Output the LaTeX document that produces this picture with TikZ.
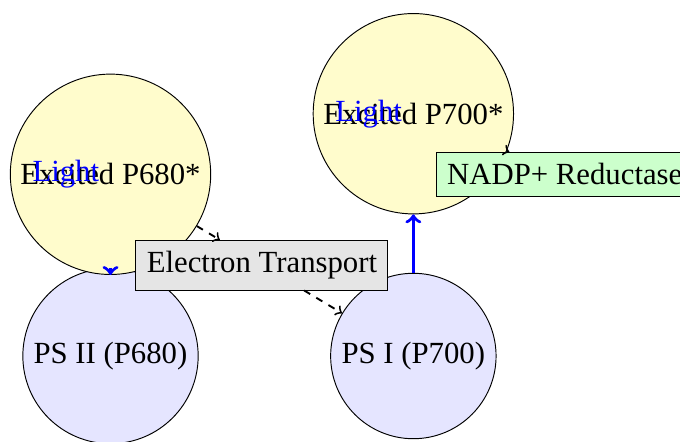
\documentclass[tikz,border=0pt]{standalone}
\usepackage{fontspec}
\setmainfont{Liberation Serif}
\usepackage{tikz}

\begin{document}
\begin{tikzpicture}[font=\fontsize{13pt}{15.5pt}\selectfont,
  every node/.style={inner sep=4.6pt},
  photosystem/.style={circle, draw, fill=blue!10, inner sep=3.4pt},
  excited/.style={circle, draw, fill=yellow!20, inner sep=3.6pt},
  carrier/.style={rectangle, draw, fill=gray!20},
  enzyme/.style={rectangle, draw, fill=green!20},
  lightarrow/.style={->, blue, line width=1.4pt},
  lightlabel/.style={blue, anchor=east},
  flow/.style={->, thick, dashed}]
\useasboundingbox (-1.642,-1.263) rectangle (8.462,5.290);

\node[photosystem] (ps2) at (0,0) {PS II (P680)};
\node[photosystem] (ps1) at (4.5,0) {PS I (P700)};
\node[excited] (exc1) at (0,2.7) {Excited P680*};
\node[excited] (exc2) at (4.5,3.6) {Excited P700*};
\node[carrier] (et) at (2.25,1.35) {Electron Transport};
\node[enzyme] (nadp) at (6.75,2.7) {NADP+ Reductase};

\draw[lightarrow] (ps2) -- (exc1);
\node[lightlabel] (light1) at (exc1.center) {Light};
\draw[lightarrow] (ps1) -- (exc2);
\node[lightlabel] (light2) at (exc2.center) {Light};

\draw[flow] (exc1) -- (et);
\draw[flow] (et) -- (ps1);
\draw[->, thick] (exc2) -- (nadp);
%%\draw [dashed] (ps2) -- (ps1);
\end{tikzpicture}
\end{document}
